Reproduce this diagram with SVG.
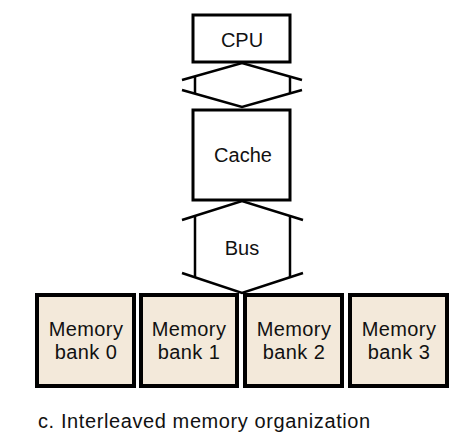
<svg xmlns="http://www.w3.org/2000/svg" width="466" height="440" viewBox="0 0 466 440">
<style>
.box{fill:#ffffff;stroke:#000;stroke-width:3}
.bank{fill:#f3e9da;stroke:#000;stroke-width:4}
.ln{fill:none;stroke:#000;stroke-width:2.5;stroke-linejoin:miter}
text{font-family:"Liberation Sans",Arial,sans-serif;font-size:20px;fill:#111;text-anchor:middle}
.m{letter-spacing:0.4px}
</style>
<rect width="466" height="440" fill="#fff"/>
<g id="connectors">
<g id="cpu-cache-link">
<polyline class="ln" points="182,80 242,63 302,80"/>
<polyline class="ln" points="182,90 242,107 302,90"/>
<line class="ln" x1="195" y1="76" x2="195" y2="94"/>
<line class="ln" x1="290" y1="76" x2="290" y2="94"/>
</g>
<g id="bus">
<polyline class="ln" points="182,220 242,201 303,220"/>
<polyline class="ln" points="182,273 242,293 303,273"/>
<line class="ln" x1="195" y1="216" x2="195" y2="278"/>
<line class="ln" x1="290" y1="216" x2="290" y2="278"/>
<text x="242" y="255">Bus</text>
</g>
</g>
<g id="cpu"><rect class="box" x="193" y="15" width="97" height="47"/><text x="242" y="47">CPU</text></g>
<g id="cache"><rect class="box" x="193" y="110" width="97" height="90"/><text x="243" y="162">Cache</text></g>
<g id="bank0"><rect class="bank" x="37" y="295" width="97" height="91"/><text class="m" x="86" y="336">Memory</text><text class="m" x="86" y="359">bank 0</text></g>
<g id="bank1"><rect class="bank" x="141" y="295" width="96" height="91"/><text class="m" x="189" y="336">Memory</text><text class="m" x="189" y="359">bank 1</text></g>
<g id="bank2"><rect class="bank" x="245" y="295" width="97" height="91"/><text class="m" x="294" y="336">Memory</text><text class="m" x="294" y="359">bank 2</text></g>
<g id="bank3"><rect class="bank" x="350" y="295" width="97" height="91"/><text class="m" x="399" y="336">Memory</text><text class="m" x="399" y="359">bank 3</text></g>
<text x="38" y="428" style="text-anchor:start;letter-spacing:0.6px">c. Interleaved memory organization</text>
</svg>
